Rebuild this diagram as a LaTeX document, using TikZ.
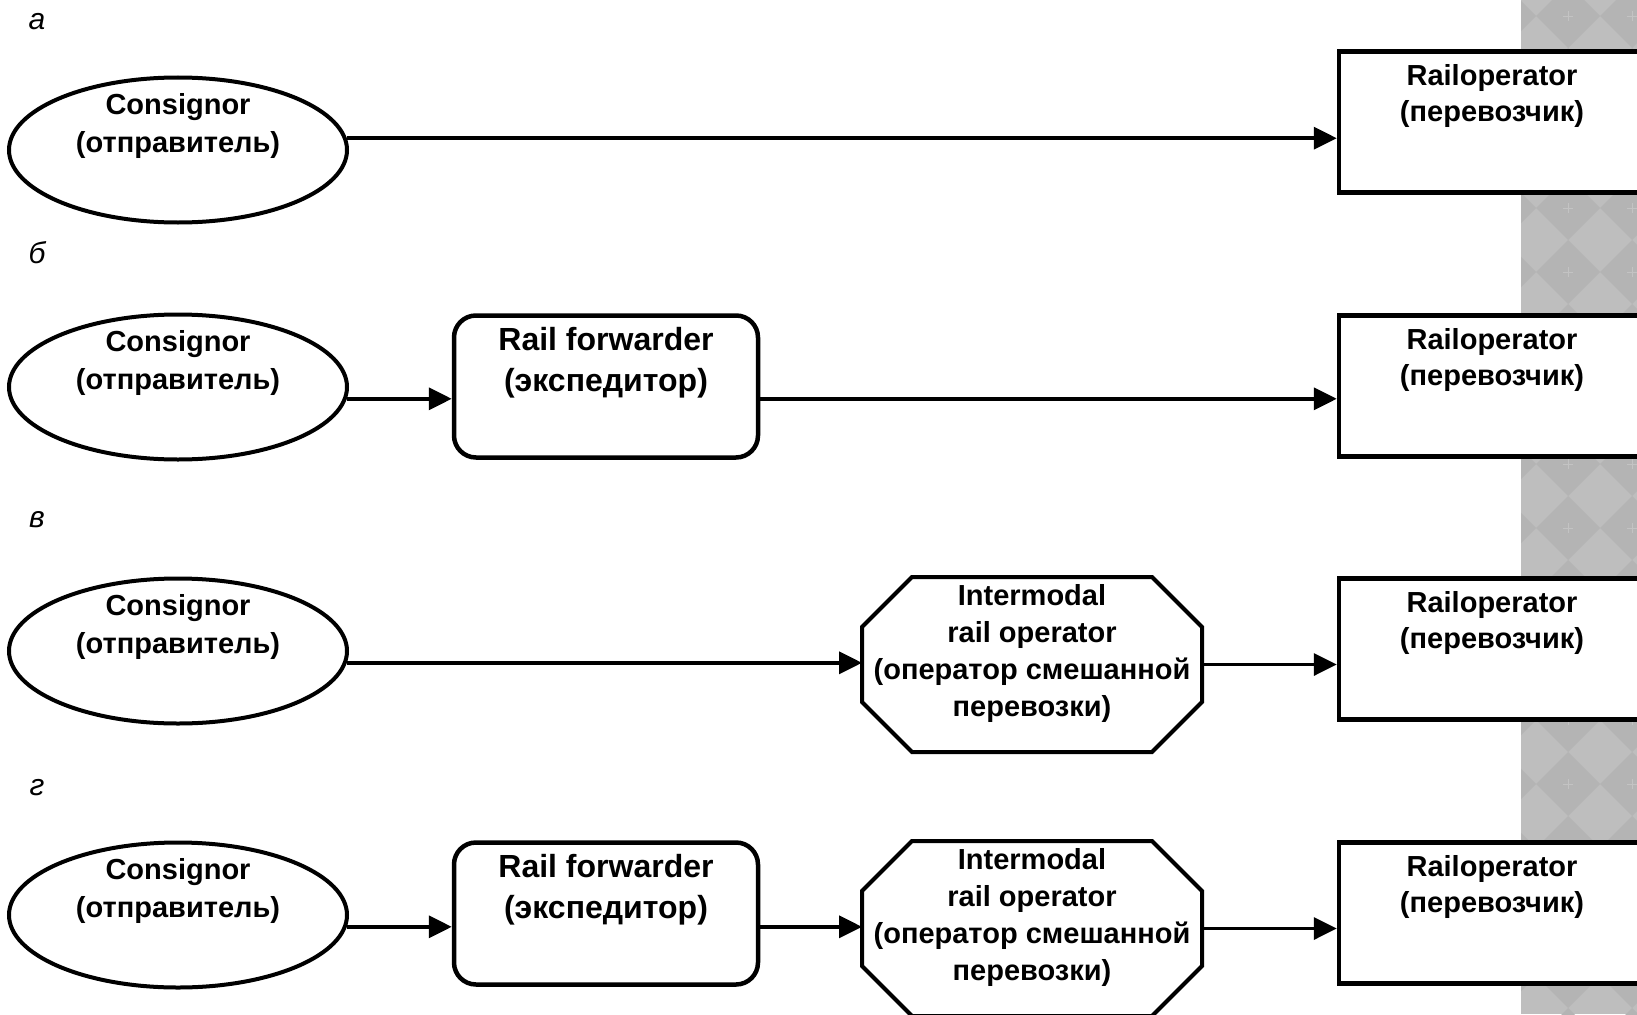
\documentclass[tikz,border=0pt]{standalone}
\usepackage{fontspec}
\setmainfont{Liberation Sans}
\usetikzlibrary{arrows.meta,shapes.geometric}
\definecolor{stripL}{HTML}{BEBEBE}
\definecolor{stripD}{HTML}{B4B4B4}
\definecolor{stripP}{HTML}{C3C3C3}
\begin{document}
\begin{tikzpicture}[x=1pt,y=-1pt,
  ell/.style={ellipse,draw,line width=4pt,fill=white,minimum width=338pt,minimum height=145pt,inner sep=0pt},
  fwdbox/.style={rectangle,draw,line width=4.5pt,fill=white,rounded corners=22pt,minimum width=304pt,minimum height=142pt,inner sep=0pt},
  opbox/.style={rectangle,draw,line width=4.5pt,fill=white,minimum width=310pt,minimum height=141pt,inner sep=0pt},
  octn/.style={rectangle,draw=none,minimum width=336pt,minimum height=171pt,inner sep=0pt,outer sep=2pt},
  octline/.style={draw,line width=4pt,fill=white,line join=miter},
  txtC/.style={align=center,inner sep=0pt,font=\fontsize{29}{38}\selectfont\bfseries},
  txtR/.style={align=center,inner sep=0pt,font=\fontsize{29}{36}\selectfont\bfseries},
  txtF/.style={align=center,inner sep=0pt,font=\fontsize{32}{41}\selectfont\bfseries},
  txtO/.style={align=center,inner sep=0pt,font=\fontsize{29}{37}\selectfont\bfseries},
  lab/.style={anchor=base,inner sep=0pt,font=\fontsize{30}{34}\selectfont\itshape},
  arr/.style={line width=3.5pt,-{Triangle[length=23pt,width=22pt]}}]
\clip (0,0) rectangle (1637,1014);
\fill[white] (0,0) rectangle (1637,1014);
% decorative strip
\begin{scope}
\clip (1521,0) rectangle (1637,1014);
\fill[stripL] (1521,0) rectangle (1637,1014);
\foreach \i in {1504,1568,1632}{
  \foreach \j in {-48,16,...,1040}{
    \fill[stripD] (\i,\j-32) -- (\i+32,\j) -- (\i,\j+32) -- (\i-32,\j) -- cycle;
    \draw[stripP,line width=0.8pt] (\i-5,\j) -- (\i+5,\j) (\i,\j-5) -- (\i,\j+5);
  }
}
\end{scope}
% labels
\node[lab] (la) at (37,30) {а};
\node[lab] (lb) at (37,263) {б};
\node[lab] (lv) at (37,527) {в};
\node[lab] (lg) at (37,795) {г};
% row a
\node[ell] (e1) at (178,150) {};
\node[txtC] (e1t) at (178,126) {Consignor\\(отправитель)};
\node[opbox] (r1) at (1494,122) {};
\node[txtR] (r1t) at (1492,96) {Railoperator\\(перевозчик)};
\coordinate (a1) at (e1.4.5);
\draw[arr] (a1) -- (a1 -| r1.west);
% row b
\node[ell] (e2) at (178,387) {};
\node[txtC] (e2t) at (178,363) {Consignor\\(отправитель)};
\node[fwdbox] (f2) at (606,386.5) {};
\node[txtF] (f2t) at (606,362.5) {Rail forwarder\\(экспедитор)};
\node[opbox] (r2) at (1494,386) {};
\node[txtR] (r2t) at (1492,360) {Railoperator\\(перевозчик)};
\coordinate (a2) at (e2.-4.8);
\draw[arr] (a2) -- (a2 -| f2.west);
\draw[arr] (a2 -| f2.east) -- (a2 -| r2.west);
% row v
\node[ell] (e3) at (178,651) {};
\node[txtC] (e3t) at (178,627) {Consignor\\(отправитель)};
\node[octn] (o3) at (1032,664.5) {};
\draw[octline] ([xshift=50pt]o3.north west) -- ([xshift=-50pt]o3.north east) -- ([yshift=-50pt]o3.north east) -- ([yshift=50pt]o3.south east) -- ([xshift=-50pt]o3.south east) -- ([xshift=50pt]o3.south west) -- ([yshift=50pt]o3.south west) -- ([yshift=-50pt]o3.north west) -- cycle;
\node[txtO] (o3t) at (1032,653) {Intermodal\\rail operator\\(оператор смешанной\\перевозки)};
\node[opbox] (r3) at (1494,649) {};
\node[txtR] (r3t) at (1492,623) {Railoperator\\(перевозчик)};
\coordinate (a3) at (e3.-4.8);
\draw[arr] (a3) -- (a3 -| o3.west);
\draw[arr] (o3.east) -- (o3.east -| r3.west);
% row g
\node[ell] (e4) at (178,915) {};
\node[txtC] (e4t) at (178,891) {Consignor\\(отправитель)};
\node[fwdbox] (f4) at (606,913.5) {};
\node[txtF] (f4t) at (606,889.5) {Rail forwarder\\(экспедитор)};
\node[octn] (o4) at (1032,928.5) {};
\draw[octline] ([xshift=50pt]o4.north west) -- ([xshift=-50pt]o4.north east) -- ([yshift=-50pt]o4.north east) -- ([yshift=50pt]o4.south east) -- ([xshift=-50pt]o4.south east) -- ([xshift=50pt]o4.south west) -- ([yshift=50pt]o4.south west) -- ([yshift=-50pt]o4.north west) -- cycle;
\node[txtO] (o4t) at (1032,917) {Intermodal\\rail operator\\(оператор смешанной\\перевозки)};
\node[opbox] (r4) at (1494,913) {};
\node[txtR] (r4t) at (1492,887) {Railoperator\\(перевозчик)};
\coordinate (a4) at (e4.-4.6);
\draw[arr] (a4) -- (a4 -| f4.west);
\draw[arr] (a4 -| f4.east) -- (a4 -| o4.west);
\draw[arr] (o4.east) -- (o4.east -| r4.west);
\end{tikzpicture}
\end{document}
